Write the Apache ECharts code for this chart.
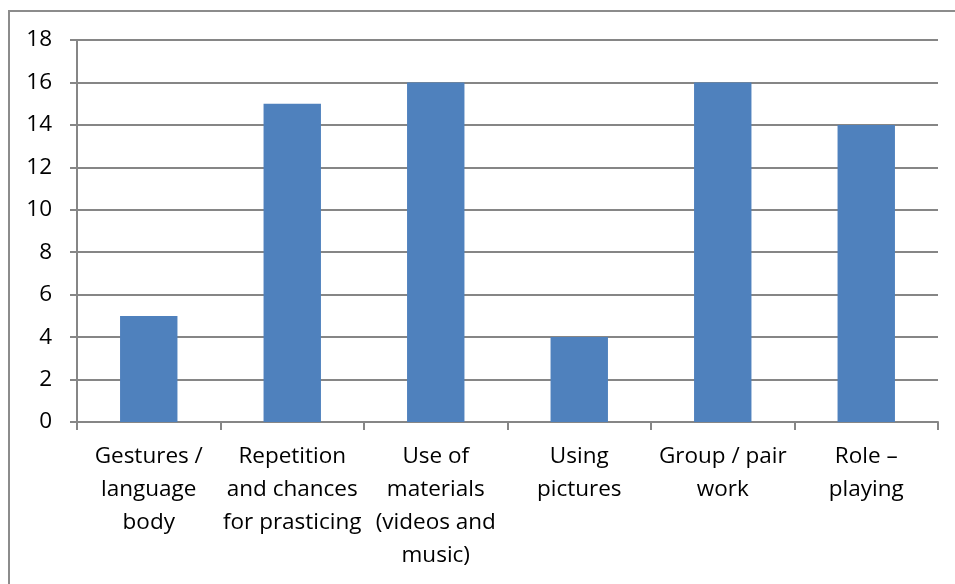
<!DOCTYPE html>
<html>
<head>
<meta charset="utf-8">
<script src="https://cdn.jsdelivr.net/npm/echarts@6/dist/echarts.min.js"></script>
<style>
  html, body { margin: 0; padding: 0; background: #fff; }
  #frame { position: absolute; left: 8px; top: 10px; width: 1000px; height: 700px;
           border-left: 2px solid #8c8c8c; border-top: 2px solid #8c8c8c; }
  #chart { position: absolute; left: 0; top: 0; width: 955px; height: 584px; }
</style>
</head>
<body>
<div id="frame"></div>
<div id="chart"></div>
<script>
// categories and counts
const categories = [
  'Gestures /\nlanguage\nbody',
  'Repetition\nand chances\nfor prasticing',
  'Use of\nmaterials\n(videos and\nmusic)',
  'Using\npictures',
  'Group / pair\nwork',
  'Role –\nplaying'
];
const counts = [5, 15, 16, 4, 16, 14];

const chart = echarts.init(document.getElementById('chart'), null, { renderer: 'canvas' });

const font = 'Open Sans';
const axisGray = '#868686';

chart.setOption({
  animation: false,
  grid: { left: 77, right: 17, top: 40, bottom: 162, containLabel: false },
  xAxis: {
    type: 'category',
    data: categories,
    axisLine: { lineStyle: { color: axisGray, width: 2 } },
    axisTick: { show: true, length: 8, alignWithLabel: false, lineStyle: { color: axisGray, width: 2 } },
    axisLabel: {
      interval: 0,
      margin: 18,
      color: '#000',
      fontFamily: font,
      fontSize: 22.5,
      lineHeight: 33,
      align: 'center'
    }
  },
  yAxis: {
    type: 'value',
    min: 0,
    max: 18,
    interval: 2,
    axisLine: { show: true, lineStyle: { color: axisGray, width: 2 } },
    axisTick: { show: true, length: 7, lineStyle: { color: axisGray, width: 2 } },
    splitLine: { lineStyle: { color: axisGray, width: 2 } },
    axisLabel: { color: '#000', fontFamily: font, fontSize: 22.5, margin: 25 }
  },
  series: [{
    type: 'bar',
    data: counts,
    barWidth: '40%',
    itemStyle: { color: '#4F81BD' }
  }]
});
</script>
</body>
</html>
